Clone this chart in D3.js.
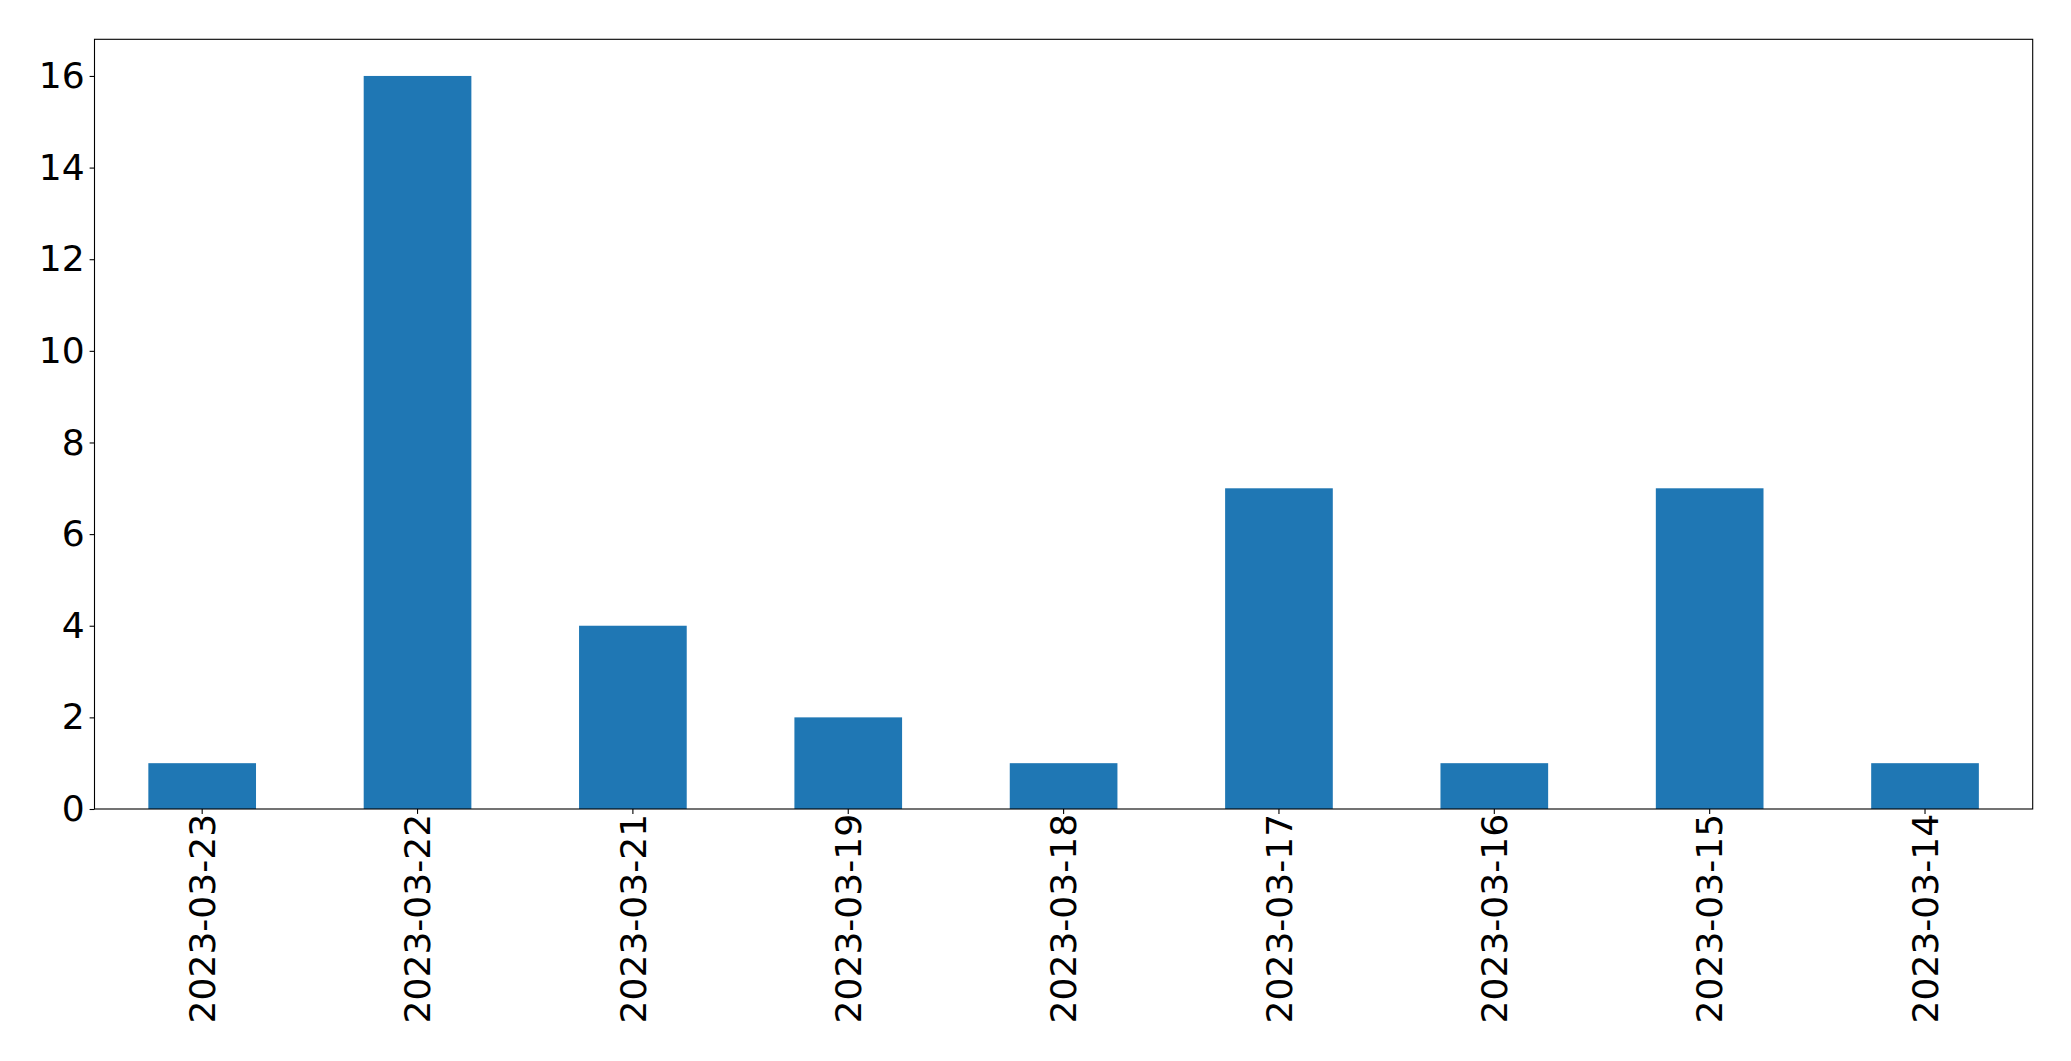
<!DOCTYPE html>
<html><head><meta charset="utf-8">
<script src="https://cdn.jsdelivr.net/npm/d3@7"></script>
<style>body{margin:0;background:#fff}svg{display:block}</style>
</head><body>
<script>
const categories = ["2023-03-23","2023-03-22","2023-03-21","2023-03-19","2023-03-18","2023-03-17","2023-03-16","2023-03-15","2023-03-14"];
const values = [1,16,4,2,1,7,1,7,1];
const yTicks = [0,2,4,6,8,10,12,14,16];

const W = 2071, H = 1061;
const L = 94.5, R = 2032.7, T = 39.3, B = 809;
const svg = d3.select("body").append("svg").attr("width", W).attr("height", H);

const x = d3.scaleLinear().domain([-0.5, categories.length - 0.5]).range([L, R]);
const y = d3.scaleLinear().domain([0, 16.8]).range([B, T]);
const bw = 0.5;

svg.append("g").selectAll("rect").data(values).join("rect")
  .attr("x", (d,i) => x(i - bw/2))
  .attr("width", (d,i) => x(i + bw/2) - x(i - bw/2))
  .attr("y", d => y(d))
  .attr("height", d => y(0) - y(d))
  .attr("fill", "#1f77b4");

const fs = 36.1;
const yAxis = d3.axisLeft(y).tickValues(yTicks).tickSize(4.9).tickPadding(4.9).tickFormat(d3.format("d"));
const gy = svg.append("g").attr("transform", `translate(${L},0)`).call(yAxis);
gy.select(".domain").remove();
gy.selectAll("line").attr("stroke", "#000").attr("stroke-width", 1.1);
gy.selectAll("text").attr("font-family", "DejaVu Sans").attr("font-size", fs).attr("fill", "#000");

const xb = d3.scaleBand().domain(categories).range([L, R]);
const xAxis = d3.axisBottom(xb).tickSize(4.9).tickPadding(4.9);
const gx = svg.append("g").attr("transform", `translate(0,${B})`).call(xAxis);
gx.select(".domain").remove();
gx.selectAll("line").attr("stroke", "#000").attr("stroke-width", 1.1);
gx.selectAll("text")
  .attr("font-family", "DejaVu Sans").attr("font-size", fs).attr("fill", "#000")
  .attr("transform", "rotate(-90)")
  .attr("x", -4.8).attr("y", 0).attr("dy", "0.35em")
  .attr("text-anchor", "end");

svg.append("rect").attr("x", L).attr("y", T).attr("width", R - L).attr("height", B - T)
  .attr("fill", "none").attr("stroke", "#000").attr("stroke-width", 1.1);
</script>
</body></html>
